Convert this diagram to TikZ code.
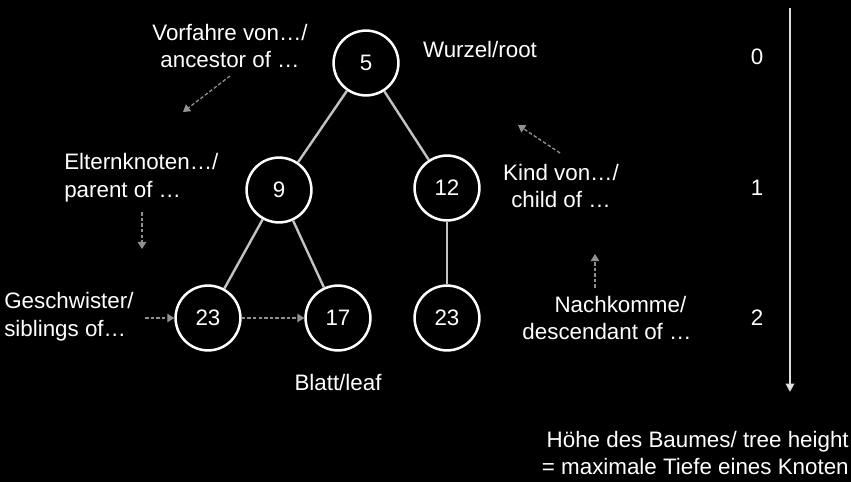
\documentclass[tikz,border=0pt]{standalone}
\usepackage{fontspec}
\setmainfont{Liberation Sans}
\usetikzlibrary{arrows.meta,positioning}
\definecolor{edgegray}{RGB}{195,195,195}
\definecolor{hintgray}{RGB}{145,145,145}
\newcommand{\treefont}{\fontsize{15.9}{19.8}\selectfont}

\begin{document}
\begin{tikzpicture}[x=0.025cm, y=-0.025cm,
        treenode/.style={draw=white, circle, line width=1.8pt, minimum size=1.62cm, text=white, font=\treefont},
        note/.style={text=white, font=\treefont, inner sep=0pt},
        edge/.style={draw=edgegray, line width=1.7pt},
        hint/.style={draw=hintgray, line width=0.9pt, dash pattern=on 2.5pt off 1.5pt, -{Triangle[length=5pt, width=6pt]}}
    ]
        % Background
        \fill[black] (0,0) rectangle (851,482);
        \useasboundingbox (0,0) rectangle (851,482);

        % Tree
        \node[treenode] (n5) at (366, 63) {5};
        \node[treenode] (n9) at (279, 190) {9};
        \node[treenode] (n12) at (447, 188) {12};
        \node[treenode] (n23a) at (208, 318) {23};
        \node[treenode] (n17) at (338, 318) {17};
        \node[treenode] (n23b) at (447, 318) {23};

        \draw[edge] (n5) -- (n9);
        \draw[edge] (n5) -- (n12);
        \draw[edge] (n9) -- (n23a);
        \draw[edge] (n9) -- (n17);
        \draw[edge] (n12) -- (n23b);

        % Labels
        \node[note, align=center] (ancestor) at (230, 46) {Vorfahre von…/\\ancestor of …};
        \node[note] (root) at (480, 50) {Wurzel/root};
        \node[note, align=left, anchor=west] (parent) at (64, 178) {Elternknoten…/\\parent of …};
        \node[note, align=center] (child) at (561, 186) {Kind von…/\\child of …};
        \node[note, align=left, anchor=west] (siblings) at (4, 317) {Geschwister/\\siblings of…};
        \node[note, align=center] (descendant) at (607, 318) {\hspace*{1.2em}Nachkomme/\\descendant of …};
        \node[note] (leaf) at (338, 383) {Blatt/leaf};
        \node[note, align=right, anchor=east] (height) at (849, 453) {Höhe des Baumes/ tree height\\= maximale Tiefe eines Knoten};

        % Levels
        \node[note] (lvl0) at (757, 57) {0};
        \node[note] (lvl1) at (757, 188) {1};
        \node[note] (lvl2) at (757, 318) {2};

        \coordinate (htop) at (790, 8);
        \coordinate (hbot) at (790, 392);
        \draw[draw=edgegray!60!white, line width=1.4pt, -{Triangle[length=6pt, width=6pt, fill=white]}] (htop) -- (hbot);

        % Hint arrows
        \coordinate (a0) at (230, 76);
        \coordinate (a1) at (183, 112);
        \coordinate (c0) at (560, 153);
        \coordinate (c1) at (518, 125);
        \coordinate (p0) at (142, 212);
        \coordinate (p1) at (142, 249);
        \coordinate (s0) at (145, 318);
        \coordinate (d0) at (595, 288);
        \coordinate (d1) at (595, 254);

        \draw[hint] (a0) -- (a1);
        \draw[hint] (c0) -- (c1);
        \draw[hint] (p0) -- (p1);
        \draw[hint] (s0) -- (n23a);
        \draw[hint] (n23a) -- (n17);
        \draw[hint] (d0) -- (d1);
    \end{tikzpicture}
\end{document}
